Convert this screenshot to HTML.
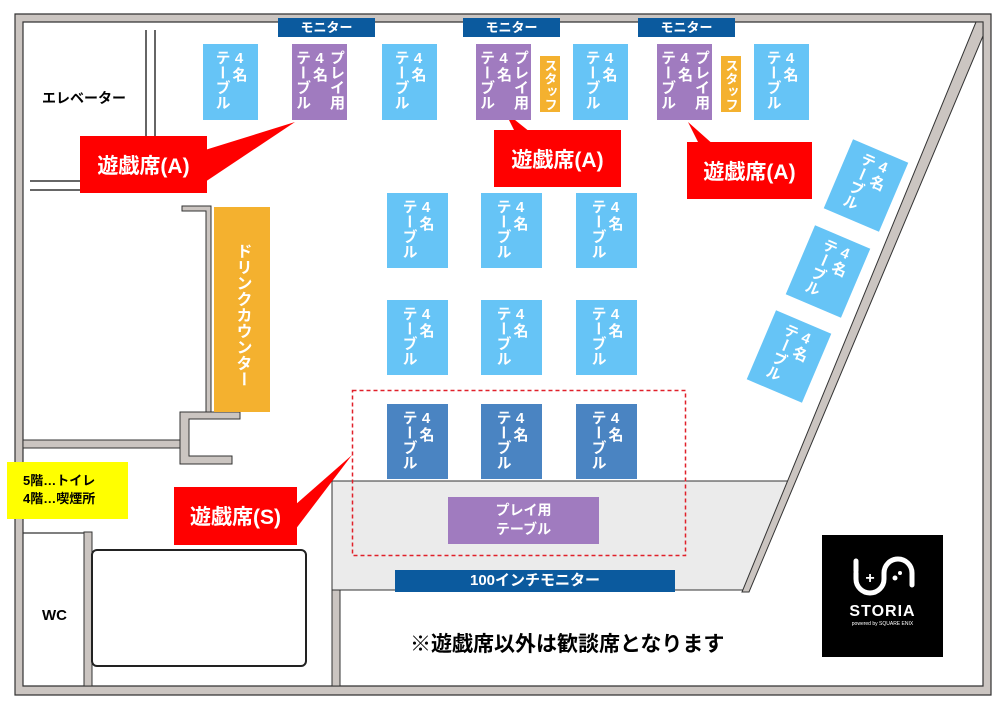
<!DOCTYPE html>
<html><head><meta charset="utf-8"><style>
*{margin:0;padding:0;box-sizing:border-box}
body{width:1000px;height:707px;background:#fff;position:relative;overflow:hidden;font-family:"Liberation Sans","Noto Sans CJK JP",sans-serif;font-weight:bold}
.a{position:absolute}
.t{position:absolute;display:flex;justify-content:center;align-items:flex-start;padding-top:6px;color:#fff;font-size:15px}
.t span{writing-mode:vertical-rl;text-orientation:upright;line-height:17px;white-space:nowrap}
.lb{background:#66c4f6}.pu{background:#a07bbf}.db{background:#4a84c2}.or{background:#f4b12f}
.mon{position:absolute;background:#0b5a9e;color:#fff;font-size:13px;text-align:center;line-height:19px}
.call{position:absolute;background:#f00;color:#fff;font-size:21px;display:flex;align-items:center;justify-content:center}
</style></head><body>
<svg class="a" style="left:0;top:0" width="1000" height="707">
<path d="M15,14 H991 V695 H15 Z M23,22 V686 H983 V22 Z" fill="#cbc5c1" fill-rule="evenodd" stroke="#333" stroke-width="1.2"/>
<polygon points="332,481 790,481 746,590 332,590" fill="#ebebeb" stroke="#333" stroke-width="1"/>
<polygon points="976,22 983,22 983,36 749,592 742,592" fill="#cbc5c1" stroke="#333" stroke-width="1"/>
<line x1="146" y1="30" x2="146" y2="136" stroke="#333" stroke-width="1.5"/>
<line x1="155" y1="30" x2="155" y2="136" stroke="#333" stroke-width="1.5"/>
<line x1="30" y1="181" x2="83" y2="181" stroke="#333" stroke-width="1.5"/>
<line x1="30" y1="190" x2="83" y2="190" stroke="#333" stroke-width="1.5"/>
<path d="M182,206 H211 V412 H206 V211 H182 Z" fill="#cbc5c1" stroke="#333" stroke-width="1"/>
<path d="M180,412 H240 V419 H189 V456 H232 V464 H180 Z" fill="#cbc5c1" stroke="#333" stroke-width="1"/>
<rect x="23" y="440" width="157" height="8" fill="#cbc5c1" stroke="#333" stroke-width="1"/>
<line x1="23" y1="533" x2="84" y2="533" stroke="#333" stroke-width="1.2"/>
<rect x="84" y="532" width="8" height="154" fill="#cbc5c1" stroke="#333" stroke-width="1"/>
<rect x="92" y="550" width="214" height="116" rx="5" fill="#fff" stroke="#222" stroke-width="2"/>
<rect x="332" y="590" width="8" height="96" fill="#cbc5c1" stroke="#333" stroke-width="1"/>
<rect x="352.5" y="390.5" width="333" height="165" fill="none" stroke="#e0202a" stroke-width="1.5" stroke-dasharray="4,3"/>
<polygon points="205,150 295,122 205,182" fill="#f00"/>
<polygon points="505,112 515,132 530,132" fill="#f00"/>
<polygon points="688,122 700,146 715,146" fill="#f00"/>
<polygon points="295,505 352,455 295,530" fill="#f00"/>
</svg>

<div class="a" style="left:42px;top:88px;font-size:14px">エレベーター</div>
<div class="a" style="left:42px;top:607px;font-size:15px">WC</div>
<div class="a" style="left:7px;top:462px;width:121px;height:57px;background:#ffff00;font-size:13px;line-height:18px;padding:10px 0 0 16px">5階…トイレ<br>4階…喫煙所</div>

<div class="mon" style="left:278px;top:18px;width:97px">モニター</div>
<div class="mon" style="left:463px;top:18px;width:97px">モニター</div>
<div class="mon" style="left:638px;top:18px;width:97px">モニター</div>
<div class="mon" style="left:395px;top:570px;width:280px;height:22px;font-size:15px;line-height:22px">100インチモニター</div>

<div class="t lb" style="left:203px;top:44px;width:55px;height:76px"><span>4名<br>テーブル</span></div>
<div class="t pu" style="left:292px;top:44px;width:55px;height:76px"><span>プレイ用<br>4名<br>テーブル</span></div>
<div class="t lb" style="left:382px;top:44px;width:55px;height:76px"><span>4名<br>テーブル</span></div>
<div class="t pu" style="left:476px;top:44px;width:55px;height:76px"><span>プレイ用<br>4名<br>テーブル</span></div>
<div class="t or" style="left:540px;top:56px;width:20px;height:56px;font-size:13px;padding-top:3px"><span>スタッフ</span></div>
<div class="t lb" style="left:573px;top:44px;width:55px;height:76px"><span>4名<br>テーブル</span></div>
<div class="t pu" style="left:657px;top:44px;width:55px;height:76px"><span>プレイ用<br>4名<br>テーブル</span></div>
<div class="t or" style="left:721px;top:56px;width:20px;height:56px;font-size:13px;padding-top:3px"><span>スタッフ</span></div>
<div class="t lb" style="left:754px;top:44px;width:55px;height:76px"><span>4名<br>テーブル</span></div>

<div class="t lb" style="left:387px;top:193px;width:61px;height:75px"><span>4名<br>テーブル</span></div>
<div class="t lb" style="left:481px;top:193px;width:61px;height:75px"><span>4名<br>テーブル</span></div>
<div class="t lb" style="left:576px;top:193px;width:61px;height:75px"><span>4名<br>テーブル</span></div>
<div class="t lb" style="left:387px;top:300px;width:61px;height:75px"><span>4名<br>テーブル</span></div>
<div class="t lb" style="left:481px;top:300px;width:61px;height:75px"><span>4名<br>テーブル</span></div>
<div class="t lb" style="left:576px;top:300px;width:61px;height:75px"><span>4名<br>テーブル</span></div>
<div class="t db" style="left:387px;top:404px;width:61px;height:75px"><span>4名<br>テーブル</span></div>
<div class="t db" style="left:481px;top:404px;width:61px;height:75px"><span>4名<br>テーブル</span></div>
<div class="t db" style="left:576px;top:404px;width:61px;height:75px"><span>4名<br>テーブル</span></div>

<div class="t lb" style="left:836px;top:148px;width:60px;height:75px;transform:rotate(23deg)"><span>4名<br>テーブル</span></div>
<div class="t lb" style="left:798px;top:234px;width:60px;height:75px;transform:rotate(23deg)"><span>4名<br>テーブル</span></div>
<div class="t lb" style="left:759px;top:319px;width:60px;height:75px;transform:rotate(23deg)"><span>4名<br>テーブル</span></div>

<div class="t or" style="left:214px;top:207px;width:56px;height:205px;padding-top:36px;font-size:16px"><span>ドリンクカウンター</span></div>
<div class="a pu" style="left:448px;top:497px;width:151px;height:47px;color:#fff;font-size:14px;line-height:19px;text-align:center;padding-top:4px">プレイ用<br>テーブル</div>

<div class="call" style="left:80px;top:136px;width:127px;height:57px">遊戯席(A)</div>
<div class="call" style="left:494px;top:130px;width:127px;height:57px">遊戯席(A)</div>
<div class="call" style="left:687px;top:142px;width:125px;height:57px">遊戯席(A)</div>
<div class="call" style="left:174px;top:487px;width:123px;height:58px">遊戯席(S)</div>

<div class="a" style="left:410px;top:628px;font-size:21px;white-space:nowrap">※遊戯席以外は歓談席となります</div>

<div class="a" style="left:822px;top:535px;width:121px;height:122px;background:#000;color:#fff;text-align:center">
<svg width="121" height="70" style="display:block">
<path d="M34,38 v6 a14,14 0 0 0 28,0 v-6 a14,14 0 0 1 28,0 v12" fill="none" stroke="#fff" stroke-width="5" stroke-linecap="round"/>
<path d="M34,26 v10" fill="none" stroke="#fff" stroke-width="5" stroke-linecap="round"/>
<text x="48" y="48" fill="#fff" font-size="16" font-family="Liberation Sans" font-weight="bold" text-anchor="middle">+</text>
<circle cx="73" cy="43" r="2.5" fill="#fff"/><circle cx="78" cy="38" r="2" fill="#fff"/>
</svg>
<div style="font-size:16px;letter-spacing:1px;margin-top:-2px">STORIA</div>
<div style="font-size:5px;font-weight:normal">powered by SQUARE ENIX</div>
</div>
</body></html>
